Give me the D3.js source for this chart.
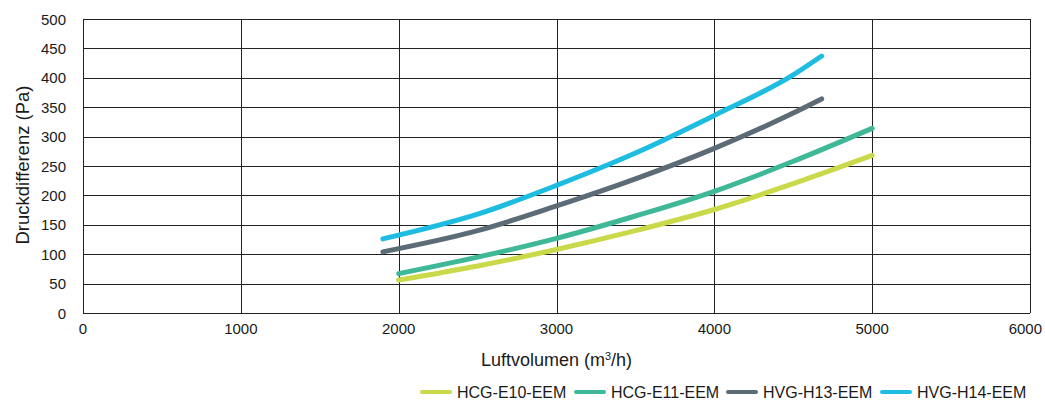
<!DOCTYPE html>
<html>
<head>
<meta charset="utf-8">
<script src="https://cdn.jsdelivr.net/npm/d3@7"></script>
<style>
  body { margin: 0; background: #fff; }
  text { font-family: "Liberation Sans", Arial, sans-serif; fill: #1a1a1a; }
</style>
</head>
<body>
<svg id="chart" width="1045" height="401"></svg>
<script>
const seriesNames = ["HCG-E10-EEM", "HCG-E11-EEM", "HVG-H13-EEM", "HVG-H14-EEM"]
const seriesColors = ["#c9d94a", "#3fb898", "#5b6c76", "#1fbce2"]

const e10 = [[2000, 56], [2500, 80], [3000, 108], [3500, 140], [4000, 176], [4500, 220], [5000, 268]]
const e11 = [[2000, 67], [2500, 95], [3000, 127], [3500, 165], [4000, 207], [4500, 258], [5000, 314]]
const h13 = [[1900, 104], [2500, 140], [3000, 182], [3500, 228], [4000, 280], [4500, 340], [4680, 364]]
const h14 = [[1900, 126], [2500, 168], [3000, 217], [3500, 272], [4000, 336], [4500, 405], [4680, 437]]

const xTicks = [0, 1000, 2000, 3000, 4000, 5000, 6000]
const yTicks = [0, 50, 100, 150, 200, 250, 300, 350, 400, 450, 500]

const svg = d3.select("#chart")

const x = d3.scaleLinear().domain([0, 6000]).range([83, 1030])
const y = d3.scaleLinear().domain([0, 500]).range([313, 19])

// gridlines
svg.append("g")
  .selectAll("line")
  .data(yTicks)
  .join("line")
  .attr("x1", x(0))
  .attr("x2", x(6000))
  .attr("y1", d => Math.round(y(d)) + 0.5)
  .attr("y2", d => Math.round(y(d)) + 0.5)
  .attr("stroke", "#222")
  .attr("stroke-width", 1)

svg.append("g")
  .selectAll("line")
  .data(xTicks)
  .join("line")
  .attr("y1", y(0))
  .attr("y2", y(500))
  .attr("x1", d => Math.round(x(d)) + 0.5)
  .attr("x2", d => Math.round(x(d)) + 0.5)
  .attr("stroke", "#222")
  .attr("stroke-width", 1)

// tick labels
svg.append("g")
  .selectAll("text")
  .data(yTicks)
  .join("text")
  .attr("x", 66)
  .attr("y", d => y(d) + 5.5)
  .attr("text-anchor", "end")
  .style("font-size", "15px")
  .text(d => d)

// last label hugs the right edge so it isn't cut
svg.append("g")
  .selectAll("text")
  .data(xTicks)
  .join("text")
  .attr("x", (d, i) => i == xTicks.length - 1 ? 1042 : x(d))
  .attr("y", 334)
  .attr("text-anchor", (d, i) => i == xTicks.length - 1 ? "end" : "middle")
  .style("font-size", "15px")
  .text(d => d)

// axis titles
const xTitle = svg.append("text")
  .attr("x", x(3000))
  .attr("y", 366)
  .attr("text-anchor", "middle")
  .style("font-size", "18px")
xTitle.append("tspan").text("Luftvolumen (m")
xTitle.append("tspan").attr("dy", -6).style("font-size", "11px").text("3")
xTitle.append("tspan").attr("dy", 6).text("/h)")

svg.append("text")
  .attr("transform", `translate(29, 165) rotate(-90)`)
  .attr("text-anchor", "middle")
  .style("font-size", "18.5px")
  .text("Druckdifferenz (Pa)")

// series lines
const line = d3.line()
  .x(d => x(d[0]))
  .y(d => y(d[1]))
  .curve(d3.curveMonotoneX)

const allSeries = [e10, e11, h13, h14]

allSeries.forEach((s, i) => {
  svg.append("path")
    .datum(s)
    .attr("d", line)
    .attr("fill", "none")
    .attr("stroke", seriesColors[i])
    .attr("stroke-width", 5)
    .attr("stroke-linecap", "round")
})

// legend
const legendX = [422, 576, 728, 882]

seriesNames.forEach((name, i) => {
  const g = svg.append("g").attr("transform", `translate(${legendX[i]}, 392)`)
  g.append("line")
    .attr("x1", 0)
    .attr("x2", 28)
    .attr("stroke", seriesColors[i])
    .attr("stroke-width", 4)
    .attr("stroke-linecap", "round")
  g.append("text")
    .attr("x", 35)
    .attr("y", 6)
    .style("font-size", "16px")
    .text(name)
})
</script>
</body>
</html>
